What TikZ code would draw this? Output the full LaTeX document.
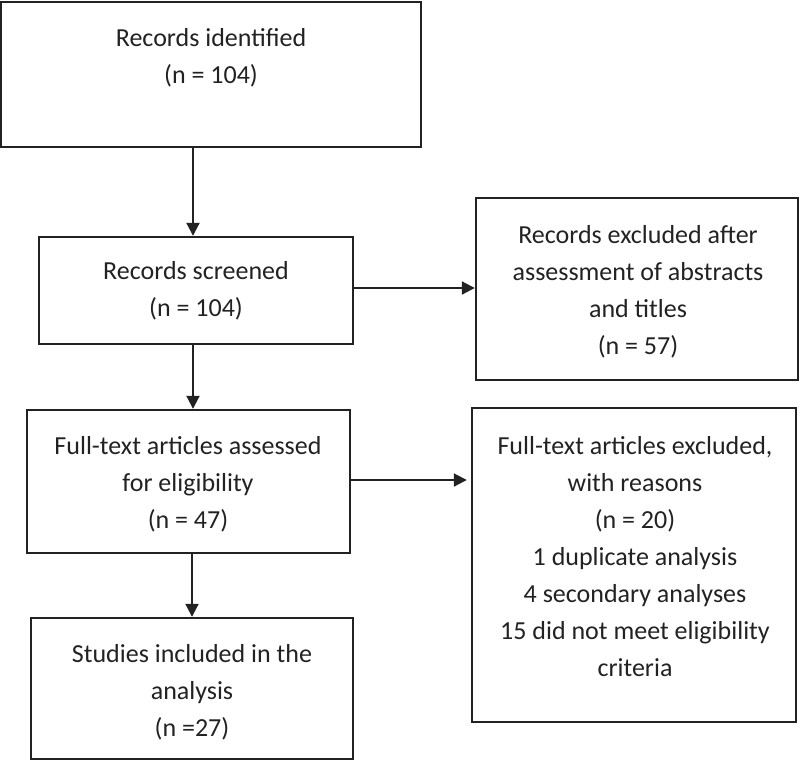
\documentclass[tikz,border=0pt]{standalone}
\usepackage{fontspec}
\setmainfont{Carlito}
\usetikzlibrary{arrows.meta}
\definecolor{ink}{HTML}{222222}
\tikzset{
  box/.style={draw=ink, line width=2.4pt, rectangle, inner sep=0pt},
  txt/.style={align=center, inner sep=0pt, text=ink, font=\fontsize{26}{37}\selectfont},
  arr/.style={draw=ink, line width=2pt, -{Triangle[length=13pt,width=13pt]}}
}
\begin{document}
\begin{tikzpicture}[x=1pt,y=-1pt]
\useasboundingbox (0,0) rectangle (800,761);
% boxes
\node[box, minimum width=420pt, minimum height=145pt] (b1) at (211,74.5) {};
\node[box, minimum width=314pt, minimum height=107pt] (b2) at (196,290.5) {};
\node[box, minimum width=322pt, minimum height=182pt] (b3) at (637,289) {};
\node[box, minimum width=323pt, minimum height=143pt] (b4) at (188.5,481.5) {};
\node[box, minimum width=324pt, minimum height=314pt] (b5) at (634,565) {};
\node[box, minimum width=322pt, minimum height=141pt] (b6) at (192,688.5) {};
% texts
\node[txt] (t1) at (211,58) {Records identified\\(n = 104)};
\node[txt] (t2) at (196,291) {Records screened\\(n = 104)};
\node[txt] (t3) at (638,292) {Records excluded after\\assessment of abstracts\\and titles\\(n = 57)};
\node[txt] (t4) at (188,484) {Full-text articles assessed\\for eligibility\\(n = 47)};
\node[txt] (t5) at (635,557) {Full-text articles excluded,\\with reasons\\(n = 20)\\1 duplicate analysis\\4 secondary analyses\\15 did not meet eligibility\\criteria};
\node[txt] (t6) at (192,692) {Studies included in the\\analysis\\(n =27)};
% connector columns
\coordinate (c1) at (193,0);
\coordinate (c2) at (192,0);
\coordinate (r1) at (0,288);
\coordinate (r2) at (0,480);
% connectors
\draw[arr] (b1.south -| c1) -- (b2.north -| c1);
\draw[arr] (b2.south -| c1) -- (b4.north -| c1);
\draw[arr] (b4.south -| c2) -- (b6.north -| c2);
\draw[arr] (b2.east |- r1) -- (b3.west |- r1);
\draw[arr, shorten >=4pt] (b4.east |- r2) -- (b5.west |- r2);
\end{tikzpicture}
\end{document}
